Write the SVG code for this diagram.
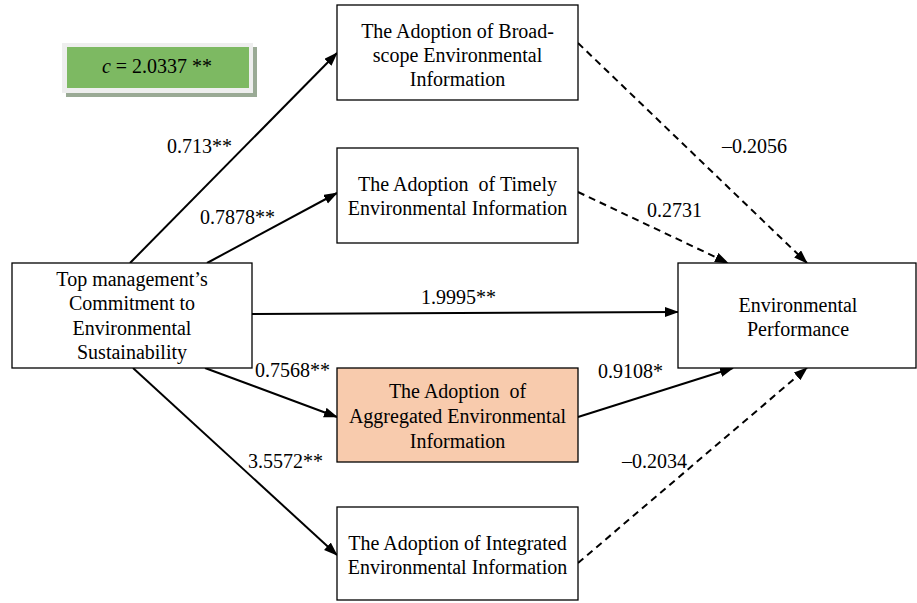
<svg xmlns="http://www.w3.org/2000/svg" width="917" height="603" viewBox="0 0 917 603">
<style>
.box{fill:#fff;stroke:#000;stroke-width:1.3}
.agg{fill:#F8CBAD;stroke:#000;stroke-width:1.3}
text{font-size:20px;fill:#000}
.c{text-anchor:middle}
.ln{fill:none;stroke:#000;stroke-width:2}
.dash{stroke-dasharray:7 5}
</style>
<defs>
<marker id="ah" markerUnits="userSpaceOnUse" markerWidth="14" markerHeight="12" refX="13" refY="5" orient="auto">
<path d="M0,0 L14,5 L0,10 Z" fill="#000"/>
</marker>
</defs>
<rect width="917" height="603" fill="#fff"/>
<g font-family="Liberation Serif, DejaVu Serif, serif">
<g id="cbox">
<rect x="66" y="47" width="191" height="50" fill="#9AAA95"/>
<rect x="62" y="43" width="191" height="50" fill="#EEEEEE"/>
<rect x="67" y="47" width="182" height="41" fill="#7DB962"/>
<text x="157" y="73" class="c"><tspan font-style="italic">c</tspan> = 2.0337 **</text>
</g>
<g id="connectors">
<line class="ln" x1="130" y1="263" x2="337" y2="53" marker-end="url(#ah)"/>
<line class="ln" x1="207" y1="263" x2="337" y2="193" marker-end="url(#ah)"/>
<line class="ln" x1="252" y1="314" x2="678" y2="312" marker-end="url(#ah)"/>
<line class="ln" x1="205" y1="368" x2="337" y2="417" marker-end="url(#ah)"/>
<line class="ln" x1="133" y1="368" x2="337" y2="555" marker-end="url(#ah)"/>
<line class="ln dash" x1="578" y1="43" x2="807" y2="263" marker-end="url(#ah)"/>
<line class="ln dash" x1="578" y1="192" x2="728" y2="263" marker-end="url(#ah)"/>
<line class="ln" x1="578" y1="417" x2="733" y2="368" marker-end="url(#ah)"/>
<line class="ln dash" x1="578" y1="563" x2="807" y2="368" marker-end="url(#ah)"/>
</g>
<g id="labels">
<text x="167" y="153">0.713**</text>
<text x="200" y="224">0.7878**</text>
<text x="421" y="304">1.9995**</text>
<text x="255" y="377">0.7568**</text>
<text x="248" y="468">3.5572**</text>
<text x="598" y="378">0.9108*</text>
<text x="622" y="468">–0.2034</text>
<text x="722" y="153">–0.2056</text>
<text x="647" y="217">0.2731</text>
</g>
<g id="broad">
<rect class="box" x="337" y="5" width="241" height="95"/>
<text x="457.5" y="38" class="c">The Adoption of Broad-</text>
<text x="457.5" y="62" class="c">scope Environmental</text>
<text x="457.5" y="86" class="c">Information</text>
</g>
<g id="timely">
<rect class="box" x="337" y="148" width="241" height="95"/>
<text x="457.5" y="191" class="c" xml:space="preserve">The Adoption  of Timely</text>
<text x="457.5" y="215" class="c">Environmental Information</text>
</g>
<g id="top">
<rect class="box" x="12" y="263" width="240" height="105"/>
<text x="132" y="286" class="c">Top management’s</text>
<text x="132" y="310" class="c">Commitment to</text>
<text x="132" y="335" class="c">Environmental</text>
<text x="132" y="359" class="c">Sustainability</text>
</g>
<g id="aggregated">
<rect class="agg" x="337" y="368" width="241" height="94"/>
<text x="457.5" y="398" class="c" xml:space="preserve">The Adoption  of</text>
<text x="457.5" y="423" class="c">Aggregated Environmental</text>
<text x="457.5" y="448" class="c">Information</text>
</g>
<g id="env">
<rect class="box" x="678" y="263" width="238" height="105"/>
<text x="798" y="312" class="c">Environmental</text>
<text x="798" y="336" class="c">Performance</text>
</g>
<g id="integrated">
<rect class="box" x="337" y="507" width="241" height="93"/>
<text x="457.5" y="550" class="c">The Adoption of Integrated</text>
<text x="457.5" y="574" class="c">Environmental Information</text>
</g>
</g>
</svg>
